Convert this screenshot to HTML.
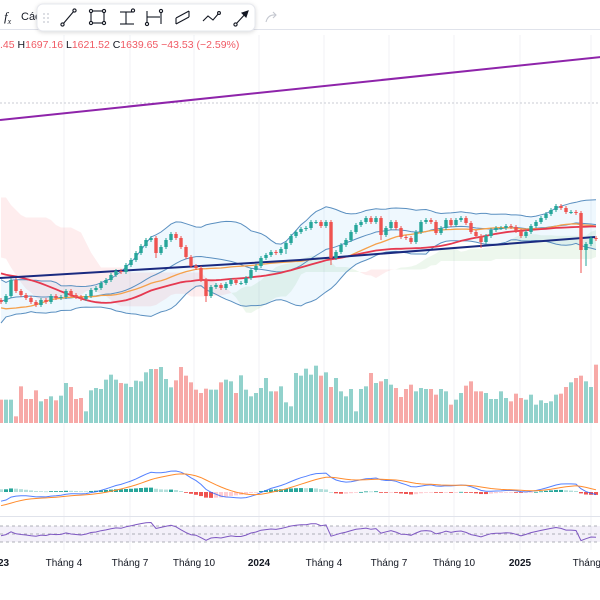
<!DOCTYPE html>
<html><head><meta charset="utf-8">
<style>
html,body{margin:0;padding:0;background:#fff;width:600px;height:600px;overflow:hidden;font-family:"Liberation Sans",sans-serif}
svg{position:absolute;left:0;top:0}
</style></head>
<body>
<svg id="chart" width="600" height="600" viewBox="0 0 600 600" xmlns="http://www.w3.org/2000/svg">
  <rect x="0" y="0" width="600" height="600" fill="#fff"/>
  <g id="grid"></g>
  <g>
    <text x="4" y="21" font-size="13" font-family="Liberation Serif, serif" font-style="italic" fill="#131722">f<tspan font-size="8" dy="3">x</tspan></text>
    <text x="21" y="20" font-size="11" fill="#131722">Các</text>
    <line x1="0" y1="29.5" x2="600" y2="29.5" stroke="#e0e3eb" stroke-width="1"/>
    <g>
      <rect x="37" y="4" width="218" height="27" rx="6" fill="#fff" stroke="#e6e8ee" style="filter:drop-shadow(0 1px 2px rgba(0,0,0,0.15))"/>
      <g fill="#c5c8d0"><circle cx="44" cy="14" r="0.9"/><circle cx="48" cy="14" r="0.9"/><circle cx="44" cy="18" r="0.9"/><circle cx="48" cy="18" r="0.9"/><circle cx="44" cy="22" r="0.9"/><circle cx="48" cy="22" r="0.9"/></g>
      <g stroke="#131722" stroke-width="1.1" fill="none">
        <g><line x1="63" y1="24" x2="74" y2="11"/><circle cx="62.5" cy="24.5" r="1.6" fill="#fff"/><circle cx="74.5" cy="10.5" r="1.6" fill="#fff"/></g>
        <g><rect x="91" y="11" width="13" height="12"/><circle cx="91" cy="11" r="1.6" fill="#fff"/><circle cx="104" cy="11" r="1.6" fill="#fff"/><circle cx="91" cy="23" r="1.6" fill="#fff"/><circle cx="104" cy="23" r="1.6" fill="#fff"/></g>
        <g><line x1="120" y1="12" x2="132" y2="12"/><line x1="120" y1="24" x2="134" y2="24"/><line x1="126" y1="12" x2="126" y2="24"/><circle cx="133" cy="10.5" r="1.6" fill="#fff"/></g>
        <g><line x1="147" y1="11" x2="147" y2="24"/><line x1="161" y1="13" x2="161" y2="24"/><line x1="147" y1="17" x2="160" y2="17"/><circle cx="161" cy="11" r="1.6" fill="#fff"/><circle cx="147" cy="24" r="1.6" fill="#fff"/></g>
        <g><path d="M176 18 L189 11 M176 24 L189 17 M176 18 L176 24 M189 11 L189 17"/></g>
        <g><path d="M203 21 L208 16 L213 20 L219 13"/><circle cx="219" cy="13" r="1.4" fill="#fff"/></g>
        <g><line x1="236" y1="24" x2="247" y2="12"/><circle cx="235.5" cy="24.5" r="1.6" fill="#fff"/><path d="M242 13 L248 11 L246 17 Z" fill="#131722"/></g>
      </g>
    </g>
    <path d="M266 22 Q268 14 276 15 M273 12 L276 15 L273 18" stroke="#c5c8d0" stroke-width="1.1" fill="none"/>
  </g>
  <text x="0" y="48" font-size="10.5" fill="#f05a64">.45 <tspan fill="#131722">H</tspan>1697.16 <tspan fill="#131722">L</tspan>1621.52 <tspan fill="#131722">C</tspan>1639.65 −43.53 (−2.59%)</text>
  <g id="plot"></g>
  <g id="axis"></g>
</svg>
<script>
// ---------- DATA ----------
const preCloses = [1450,1470,1480,1490,1500,1480,1460,1470,1440,1430,1480,1500,1490,1470,1440,1420,1460,1450,1440,1400,1360,1330,1300,1260,1240,1270,1300,1290,1280,1260,1230,1200,1180,1160,1190,1200,1180,1200,1230,1250,1270,1260,1280,1260,1250,1240,1230,1220,1200,1180,1150,1120,1080,1050,1030,1040,1000,980,960,950,970,1000,1030,1040,1060,1050,1040,1070,1080,1060,1050,1090,1100,1080,1060,1040,1050,1060,1070,1060];
const closeY = [302,296,280,291,295,298,302,305,300,302,296,298,297,291,295,297,299,296,290,288,283,280,275,271,272,265,260,253,246,240,238,253,247,240,234,238,247,257,266,268,280,296,287,285,288,284,280,283,283,278,270,266,258,255,252,253,249,243,236,232,229,228,222,222,226,222,258,252,245,240,232,225,222,218,222,218,235,228,222,228,237,238,242,232,222,220,222,233,228,220,225,220,218,223,232,236,242,236,230,228,228,226,227,231,236,232,226,222,218,214,210,206,208,212,212,213,250,244,238,239];
const closes = closeY.map(y => 1000 + (330 - y) * 2);
const volumes = [70,70,70,20,110,72,72,98,65,72,80,68,82,120,108,72,75,35,98,105,102,130,145,130,120,118,108,127,125,152,162,162,168,132,107,128,168,142,122,100,90,103,100,100,122,130,125,90,143,100,80,90,105,135,95,95,110,62,50,150,142,163,145,172,142,152,108,135,95,80,102,35,102,110,150,120,125,132,115,105,78,102,115,95,105,102,102,85,102,95,55,70,90,112,125,95,95,90,72,72,95,75,65,88,75,70,85,55,68,60,65,85,88,108,122,135,142,125,108,175];
const longLowWicks = {31:6, 41:8, 57:6, 66:10, 76:6, 96:8, 116:42, 117:28};
const timeLabels = ["2023","Tháng 4","Tháng 7","Tháng 10","2024","Tháng 4","Tháng 7","Tháng 10","2025","Tháng 4"];
const timeLabelBars = [-0.6,12.6,25.8,38.6,51.6,64.6,77.6,90.6,103.8,118];
const boldLabels = [true,false,false,false,true,false,false,false,true,false];
const baselineTrend = [[0,1104],[60,1140],[119,1186]];
const purpleTrend = [[0,1420],[120,1546]];
const dashedLevel = 1454;

// ---------- SCALES ----------
const X = i => i * 5 + 1;
const Y = p => 330 - (p - 1000) * 0.5;
const VOL_BASE = 423;
const VY = v => VOL_BASE - v / 3;
const MACD_ZERO = 492;
const RSI_Y = r => 534 - (r - 50) * 0.4;

const NS = "http://www.w3.org/2000/svg";
const plot = document.getElementById('plot');
const grid = document.getElementById('grid');
const axis = document.getElementById('axis');
function mk(tag, attrs, parent) {
  const e = document.createElementNS(NS, tag);
  for (const k in attrs) e.setAttribute(k, attrs[k]);
  (parent || plot).appendChild(e);
  return e;
}
const P = preCloses.length;
const full = preCloses.concat(closes);
const N = closes.length;
const opens = full.map((c, j) => j === 0 ? c : full[j - 1]);
const highs = full.map((c, j) => Math.max(c, opens[j]) + 4);
const lows = full.map((c, j) => Math.min(c, opens[j]) - 4 - ((j - P) in longLowWicks ? longLowWicks[j - P] : 0));
function sma(arr, n, j) { let s = 0; for (let k = j - n + 1; k <= j; k++) s += arr[Math.max(0, k)]; return s / n; }
function std(arr, n, j, m) { let s = 0; for (let k = j - n + 1; k <= j; k++) { const d = arr[Math.max(0, k)] - m; s += d * d; } return Math.sqrt(s / n); }
function hl(j, n) { let h = -1e9, l = 1e9; for (let k = j - n + 1; k <= j; k++) { const kk = Math.max(0, k); h = Math.max(h, highs[kk]); l = Math.min(l, lows[kk]); } return (h + l) / 2; }
function pathFrom(pts) { return pts.map((p, k) => (k ? 'L' : 'M') + p[0].toFixed(1) + ' ' + p[1].toFixed(1)).join(' '); }

// ---------- GRID ----------
timeLabelBars.forEach(b => {
  const gl = mk('line', {x1: X(b), y1: 35, x2: X(b), y2: 550, stroke: '#f0f2f6', 'stroke-width': 1}, grid);
  
  
});
const dl = mk('line', {x1: 0, y1: Y(dashedLevel), x2: 600, y2: Y(dashedLevel), stroke: '#c8cbd3', 'stroke-width': 1, 'stroke-dasharray': '2 2'});


const pl = mk('line', {x1: X(purpleTrend[0][0]) - 1, y1: Y(purpleTrend[0][1]), x2: X(purpleTrend[1][0]), y2: Y(purpleTrend[1][1]), stroke: '#8e24aa', 'stroke-width': 2});



// ---------- ICHIMOKU CLOUD ----------
const spanA = [], spanB = [];
for (let i = 0; i < N; i++) {
  const j = P + i - 26;
  spanA.push((hl(j, 9) + hl(j, 26)) / 2);
  spanB.push(hl(j, 52));
}
const cloud = mk('g', {});


for (let i = 0; i < N - 1; i++) {
  const pts = [[X(i), Y(spanA[i])], [X(i + 1), Y(spanA[i + 1])], [X(i + 1), Y(spanB[i + 1])], [X(i), Y(spanB[i])]];
  const up = spanA[i] + spanA[i + 1] > spanB[i] + spanB[i + 1];
  const c = mk('path', {d: pathFrom(pts) + 'Z', fill: up ? 'rgba(76,175,80,0.1)' : 'rgba(242,54,69,0.09)'}, cloud);
  
  
}

// ---------- BOLLINGER ----------
const bbU = [], bbL = [], bbM = [];
for (let i = 0; i < N; i++) { const j = P + i; const m = sma(full, 20, j); const s = std(full, 20, j, m); bbM.push([X(i), Y(m)]); bbU.push([X(i), Y(m + 2 * s)]); bbL.push([X(i), Y(m - 2 * s)]); }
const bbFill = mk('path', {d: pathFrom(bbU.concat(bbL.slice().reverse())) + 'Z', fill: 'rgba(33,150,243,0.07)'});


[[bbU, 'bollinger-upper'], [bbL, 'bollinger-lower'], [bbM, 'bollinger-middle']].forEach(([pts, name]) => {
  const l = mk('path', {d: pathFrom(pts), fill: 'none', stroke: '#5a8fc0', 'stroke-width': 1});
  
  
});

// ---------- MOVING AVERAGES ----------
const maOrange = [], maRed = [];
for (let i = 0; i < N; i++) { maOrange.push([X(i), Y(sma(full, 30, P + i))]); maRed.push([X(i), Y(sma(full, 50, P + i))]); }
const mo = mk('path', {d: pathFrom(maOrange), fill: 'none', stroke: '#f5a04a', 'stroke-width': 1.3});


const mr = mk('path', {d: pathFrom(maRed), fill: 'none', stroke: '#e53950', 'stroke-width': 1.8});


const nv = mk('path', {d: pathFrom(baselineTrend.map(p => [X(p[0]) - 1, Y(p[1])])) , fill: 'none', stroke: '#1a2a80', 'stroke-width': 2});



// ---------- CANDLES & VOLUME ----------
for (let i = 0; i < N; i++) {
  const j = P + i, o = opens[j], c = full[j], up = c >= o;
  const col = up ? '#26a69a' : '#ef5350';
  const g = mk('g', {});
  
  
  mk('line', {x1: X(i), x2: X(i), y1: Y(highs[j]), y2: Y(lows[j]), stroke: col, 'stroke-width': 1}, g);
  const top = Y(Math.max(o, c)), bot = Y(Math.min(o, c));
  mk('rect', {x: X(i) - 1.7, y: top, width: 3.4, height: Math.max(1, bot - top), fill: col}, g);
  const v = mk('rect', {x: X(i) - 2, y: VY(volumes[i]), width: 4, height: VOL_BASE - VY(volumes[i]), fill: up ? 'rgba(38,166,154,0.5)' : 'rgba(239,83,80,0.5)'});
  
  
}

// ---------- MACD ----------
function ema(arr, n) { const k = 2 / (n + 1); const out = []; arr.forEach((v, t) => out.push(t ? v * k + out[t - 1] * (1 - k) : v)); return out; }
const e12 = ema(full, 12), e26 = ema(full, 26);
const macd = full.map((v, t) => e12[t] - e26[t]);
const signal = ema(macd, 9);
let mx = 0; for (let i = 0; i < N; i++) mx = Math.max(mx, Math.abs(macd[P + i]));
const mk_ = 21 / mx;
const MY = v => MACD_ZERO - v * mk_;
const hist = mk('g', {});


for (let i = 0; i < N; i++) {
  const h = (macd[P + i] - signal[P + i]) * 0.6, hp = (macd[P + i - 1] - signal[P + i - 1]) * 0.6;
  const col = h >= 0 ? (h >= hp ? '#26a69a' : '#b2dfdb') : (h <= hp ? '#ef5350' : '#ffcdd2');
  const y1 = Math.min(MY(h), MACD_ZERO), y2 = Math.max(MY(h), MACD_ZERO);
  const b = mk('rect', {x: X(i) - 2, y: y1, width: 4, height: Math.max(0.8, y2 - y1), fill: col}, hist);
  
  
}
const mLine = [], sLine = [];
for (let i = 0; i < N; i++) { mLine.push([X(i), MY(macd[P + i])]); sLine.push([X(i), MY(signal[P + i])]); }
const ml = mk('path', {d: pathFrom(mLine), fill: 'none', stroke: '#2962ff', 'stroke-width': 1, opacity: 0.8});


const sl = mk('path', {d: pathFrom(sLine), fill: 'none', stroke: '#ff8c2e', 'stroke-width': 1});


const sep = mk('line', {x1: 0, x2: 600, y1: 516.5, y2: 516.5, stroke: '#e0e3eb', 'stroke-width': 1});



// ---------- RSI ----------
const rsiBand = mk('rect', {x: 0, y: RSI_Y(70), width: 600, height: RSI_Y(30) - RSI_Y(70), fill: 'rgba(126,87,194,0.09)'});


[70, 50, 30].forEach(l => {
  const ln = mk('line', {x1: 0, x2: 600, y1: RSI_Y(l), y2: RSI_Y(l), stroke: '#9598a1', 'stroke-width': 0.8, 'stroke-dasharray': '3 3'});
  
  
});
let ag = 0, al = 0; const rsi = [];
for (let t = 1; t < full.length; t++) {
  const d = full[t] - full[t - 1];
  ag = (ag * 13 + Math.max(d, 0)) / 14; al = (al * 13 + Math.max(-d, 0)) / 14;
  rsi[t] = al === 0 ? 100 : 100 - 100 / (1 + ag / al);
}
const rPts = []; for (let i = 0; i < N; i++) rPts.push([X(i), RSI_Y(rsi[P + i])]);
const rl = mk('path', {d: pathFrom(rPts), fill: 'none', stroke: '#7e57c2', 'stroke-width': 1});



// ---------- TIME AXIS ----------
timeLabels.forEach((t, k) => {
  const tx = mk('text', {x: X(timeLabelBars[k]), y: 566, 'font-size': 10, 'text-anchor': 'middle', fill: '#131722', 'font-weight': boldLabels[k] ? 'bold' : 'normal'}, axis);
  tx.textContent = t;
  
  
});
</script>
</body></html>
